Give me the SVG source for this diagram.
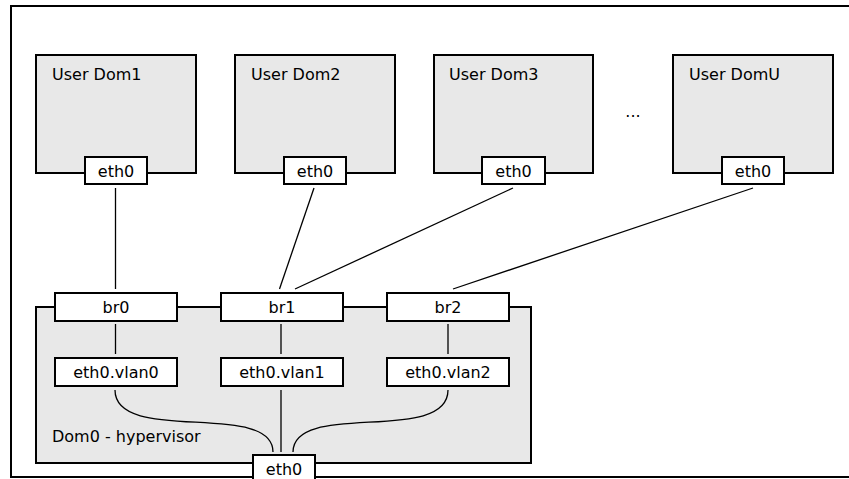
<svg xmlns="http://www.w3.org/2000/svg" width="849" height="479" viewBox="0 0 849 479">
<style>
.frame{fill:#ffffff;stroke:#000;stroke-width:2}
.dom{fill:#e8e8e8;stroke:#000;stroke-width:2}
.box{fill:#ffffff;stroke:#000;stroke-width:2}
.lbl{font-family:"DejaVu Sans",sans-serif;font-size:16px;fill:#000}
.mid{text-anchor:middle}
.conn{fill:none;stroke:#000;stroke-width:1.3}
</style>
<rect x="0" y="0" width="849" height="479" fill="#ffffff"/>
<rect class="frame" x="11" y="6" width="860" height="471"/>

<g id="dom1">
<rect class="dom" x="36" y="55" width="160" height="118"/>
<text class="lbl" x="52" y="80">User Dom1</text>
</g>
<g id="dom1-eth0">
<rect class="box" x="85" y="157" width="62" height="27"/>
<text class="lbl mid" x="116" y="176.5">eth0</text>
</g>
<g id="dom2">
<rect class="dom" x="235" y="55" width="160" height="118"/>
<text class="lbl" x="251" y="80">User Dom2</text>
</g>
<g id="dom2-eth0">
<rect class="box" x="284" y="157" width="62" height="27"/>
<text class="lbl mid" x="315" y="176.5">eth0</text>
</g>
<g id="dom3">
<rect class="dom" x="434" y="55" width="159" height="118"/>
<text class="lbl" x="449" y="80">User Dom3</text>
</g>
<g id="dom3-eth0">
<rect class="box" x="482" y="157" width="63" height="27"/>
<text class="lbl mid" x="513.5" y="176.5">eth0</text>
</g>
<g id="ellipsis">
<text class="lbl mid" x="633" y="117">...</text>
</g>
<g id="domU">
<rect class="dom" x="673" y="55" width="160" height="118"/>
<text class="lbl" x="689" y="80">User DomU</text>
</g>
<g id="domU-eth0">
<rect class="box" x="722" y="157" width="62" height="27"/>
<text class="lbl mid" x="753" y="176.5">eth0</text>
</g>

<g id="dom0">
<rect class="dom" x="36" y="307" width="495" height="156"/>
<text class="lbl" x="52" y="442">Dom0 - hypervisor</text>
</g>

<g id="connectors">
<line class="conn" x1="115.5" y1="188" x2="115.5" y2="289"/>
<line class="conn" x1="314" y1="188" x2="279.5" y2="289"/>
<line class="conn" x1="513" y1="188" x2="295" y2="289"/>
<line class="conn" x1="753" y1="188" x2="453" y2="289"/>
<line class="conn" x1="115.5" y1="324" x2="115.5" y2="354"/>
<line class="conn" x1="281" y1="324" x2="281" y2="354"/>
<line class="conn" x1="448" y1="324" x2="448" y2="354"/>
<path class="conn" d="M115,390 C115,445 273,400 273,452"/>
<line class="conn" x1="281" y1="390" x2="281" y2="452"/>
<path class="conn" d="M448,390 C448,445 293,400 293,452"/>
</g>

<g id="br0">
<rect class="box" x="55" y="293" width="122" height="28"/>
<text class="lbl mid" x="116" y="313">br0</text>
</g>
<g id="br1">
<rect class="box" x="221" y="293" width="122" height="28"/>
<text class="lbl mid" x="282" y="313">br1</text>
</g>
<g id="br2">
<rect class="box" x="387" y="293" width="122" height="28"/>
<text class="lbl mid" x="448" y="313">br2</text>
</g>
<g id="vlan0">
<rect class="box" x="55" y="358" width="122" height="28"/>
<text class="lbl mid" x="116" y="378">eth0.vlan0</text>
</g>
<g id="vlan1">
<rect class="box" x="221" y="358" width="122" height="28"/>
<text class="lbl mid" x="282" y="378">eth0.vlan1</text>
</g>
<g id="vlan2">
<rect class="box" x="387" y="358" width="122" height="28"/>
<text class="lbl mid" x="448" y="378">eth0.vlan2</text>
</g>
<g id="dom0-eth0">
<rect class="box" x="253" y="455" width="62" height="28"/>
<text class="lbl mid" x="284" y="474.5">eth0</text>
</g>
</svg>
